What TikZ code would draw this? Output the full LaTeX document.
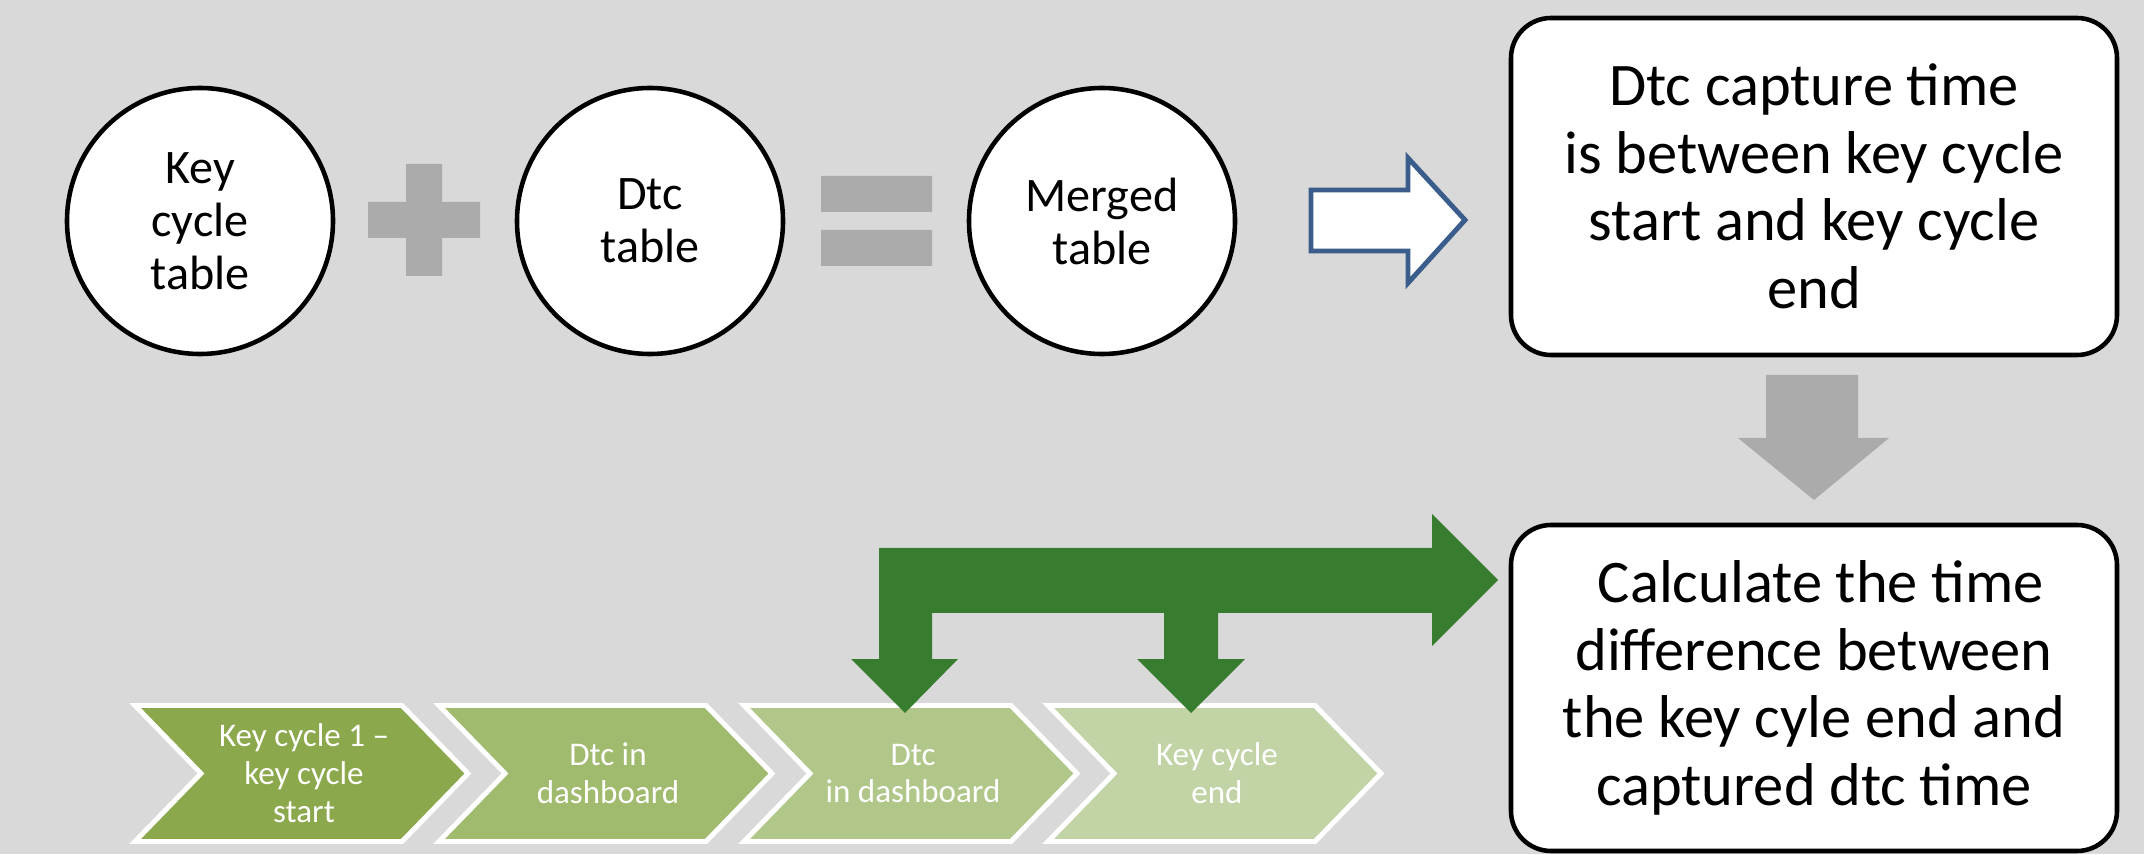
\documentclass[tikz,border=0pt]{standalone}
\usepackage{fontspec}
\setmainfont{Carlito}
\usepackage{tikz}
\usetikzlibrary{positioning, calc}
\definecolor{fondoGris}{HTML}{D9D9D9}
\definecolor{simboloGris}{HTML}{ABABAB}
\definecolor{flechaAzul}{HTML}{3A5D8B}
\definecolor{flechaVerde}{HTML}{387C2F}
\definecolor{chevA}{HTML}{8CA84C}
\definecolor{chevB}{HTML}{A0BA6E}
\definecolor{chevC}{HTML}{B1C78A}
\definecolor{chevD}{HTML}{C2D4A6}

\begin{document}
\begin{tikzpicture}[
        tbl/.style={circle, draw=black, line width=1.3pt, fill=white, minimum size=2.66cm,
            inner sep=0pt, align=center, font=\fontsize{13.7}{15.1}\selectfont},
        box/.style={draw=black, line width=1.3pt, fill=white, rounded corners=0.4cm,
            minimum width=6.06cm, minimum height=3.37cm, align=center,
            font=\fontsize{17.2}{19.2}\selectfont},
        chev/.style={draw=white, line width=1.4pt, line join=miter},
        chevtxt/.style={text=white, align=center, inner sep=0pt,
            font=\fontsize{9.4}{10.8}\selectfont}]
        \useasboundingbox (0,0) rectangle (21.44,8.54);
        \fill[fondoGris] (0,0) rectangle (21.44,8.54);
        \node[tbl] (kct)  at (2.00,6.33)  {Key\\cycle\\table};
        \node[tbl] (dtct) at (6.50,6.33)  {Dtc\\table};
        \node[tbl] (mrg)  at (11.02,6.33) {Merged\\table};
        \fill[simboloGris] (3.68,6.16) rectangle (4.80,6.52) (4.06,5.78) rectangle (4.42,6.90);
        \fill[simboloGris] (8.21,6.42) rectangle (9.32,6.78) (8.21,5.88) rectangle (9.32,6.24);
        \draw[flechaAzul, line width=1.4pt, fill=white, line join=miter]
            (13.11,6.64) -- (14.08,6.64) -- (14.08,6.96) -- (14.65,6.34)
            -- (14.08,5.71) -- (14.08,6.03) -- (13.11,6.03) -- cycle;
        \node[box] (cond) at (18.14,6.675) {Dtc capture time\\is between key cycle\\start and key cycle\\end};
        \node[box, minimum height=3.26cm] (calc) at (18.14,1.66)
            {\ Calculate the time\\difference between\\the key cyle end and\\captured dtc time};
        \fill[simboloGris] (17.66,4.79) -- (18.58,4.79) -- (18.58,4.16) -- (18.89,4.16)
            -- (18.14,3.54) -- (17.38,4.16) -- (17.66,4.16) -- cycle;
        \foreach \x/\c/\t [count=\i] in {1.35/chevA/{Key cycle 1 --\\key cycle\\start},
                4.39/chevB/{Dtc in\\dashboard}, 7.44/chevC/{Dtc\\in dashboard},
                10.48/chevD/{Key cycle\\end}} {
            \draw[chev, fill=\c] (\x,1.485) -- ++(2.67,0) -- ++(0.66,-0.68) -- ++(-0.66,-0.68)
                -- ++(-2.67,0) -- ++(0.66,0.68) -- cycle;
            \node[chevtxt] (ch\i) at (\x+1.69,0.805) {\t};
        }
        \fill[flechaVerde] (8.79,3.06) -- (14.32,3.06) -- (14.32,3.40) -- (14.98,2.74)
            -- (14.32,2.08) -- (14.32,2.41) -- (12.18,2.41) -- (12.18,1.95) -- (12.45,1.95)
            -- (11.91,1.41) -- (11.37,1.95) -- (11.64,1.95) -- (11.64,2.41) -- (9.32,2.41)
            -- (9.32,1.95) -- (9.58,1.95) -- (9.05,1.41) -- (8.51,1.95) -- (8.79,1.95) -- cycle;
    \end{tikzpicture}
\end{document}
